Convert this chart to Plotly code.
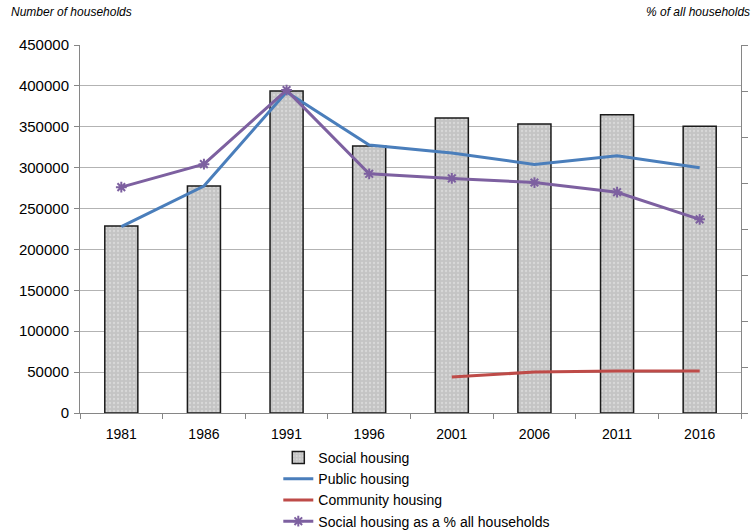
import plotly.graph_objects as go

years = ["1981", "1986", "1991", "1996", "2001", "2006", "2011", "2016"]
social_housing = [228700, 277600, 393700, 326500, 360700, 353400, 364700, 350600]
public_housing = [227800, 277600, 392500, 327700, 318000, 304000, 314600, 300000]
community_years = ["2001", "2006", "2011", "2016"]
community_housing = [44000, 50100, 51300, 51500]
social_pct = [4.91, 5.41, 7.02, 5.20, 5.10, 5.01, 4.80, 4.21]
left_ticks = [0, 50000, 100000, 150000, 200000, 250000, 300000, 350000, 400000, 450000]

font_family = "Liberation Sans"

fig = go.Figure()
fig.add_trace(go.Bar(
    x=years, y=social_housing, name="Social housing",
    marker=dict(color="#c4c4c4", line=dict(color="#1a1a1a", width=1.5),
                pattern=dict(shape=".", fgcolor="#ececec", size=4, solidity=0.25)),
    width=0.4,
))
fig.add_trace(go.Scatter(
    x=years, y=public_housing, name="Public housing", mode="lines",
    line=dict(color="#4a7ebb", width=3),
))
fig.add_trace(go.Scatter(
    x=community_years, y=community_housing, name="Community housing", mode="lines",
    line=dict(color="#be4b48", width=3),
))
fig.add_trace(go.Scatter(
    x=years, y=social_pct, name="Social housing as a % all households", mode="lines+markers",
    line=dict(color="#7d60a0", width=3),
    marker=dict(symbol="asterisk-open", size=9, color="#7d60a0", line=dict(color="#7d60a0", width=2)),
    yaxis="y2",
))

fig.update_layout(
    width=756, height=530,
    margin=dict(l=80, r=15, t=45, b=117, autoexpand=False),
    paper_bgcolor="white", plot_bgcolor="white",
    font=dict(family=font_family, size=14, color="#000000"),
    showlegend=True,
    legend=dict(x=0.30, y=0.166, xref="paper", yref="container", xanchor="left", yanchor="top",
                orientation="v", font=dict(size=14), tracegroupgap=0,
                bgcolor="rgba(0,0,0,0)", itemwidth=30),
    xaxis=dict(type="category", tickson="boundaries", ticks="outside", ticklen=5,
               tickcolor="#868686", showline=True, linecolor="#868686", linewidth=1,
               showgrid=False, tickfont=dict(size=14), ticklabelstandoff=8),
    yaxis=dict(range=[0, 450000], tickvals=left_ticks, ticktext=[str(v) for v in left_ticks],
               ticks="outside", ticklen=5, tickcolor="#868686",
               showline=True, linecolor="#868686", linewidth=1,
               showgrid=True, gridcolor="#b3b3b3", gridwidth=1, zeroline=False,
               tickfont=dict(size=15), ticklabelstandoff=2),
    yaxis2=dict(range=[0, 8], dtick=1, overlaying="y", side="right",
                showticklabels=False, ticks="outside", ticklen=6, tickcolor="#868686",
                showline=True, linecolor="#868686", linewidth=1,
                showgrid=False, zeroline=False),
    bargap=0.6,
    annotations=[
        dict(text="<i>Number of households</i>", xref="paper", yref="paper",
             x=-0.108, y=1.09, xanchor="left", yanchor="middle", showarrow=False,
             font=dict(size=12)),
        dict(text="<i>% of all households</i>", xref="paper", yref="paper",
             x=1.017, y=1.09, xanchor="right", yanchor="middle", showarrow=False,
             font=dict(size=12)),
    ],
)

fig.write_html("out.html")
